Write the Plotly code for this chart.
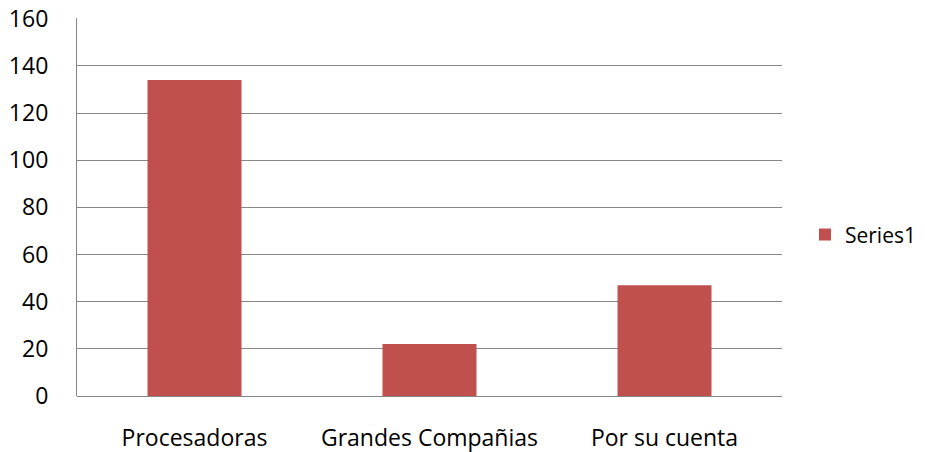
import plotly.graph_objects as go

categories = ['Procesadoras', 'Grandes Compañias', 'Por su cuenta']
values = [134, 22, 47]
y_ticks = [0, 20, 40, 60, 80, 100, 120, 140, 160]

fig = go.Figure()
fig.add_trace(go.Bar(
    name='Series1',
    x=categories, y=values,
    marker=dict(color='#C0504D', line=dict(width=0)),
    width=0.4,
))

# page body keeps an 8px margin at top/left
fig.update_layout(
    width=925, height=452,
    margin=dict(l=69, r=151, t=10, b=64, autoexpand=False),
    paper_bgcolor='white', plot_bgcolor='white',
    font=dict(family='Open Sans', size=23, color='#000000'),
    showlegend=True,
    legend=dict(x=1.0326, y=0.426, xanchor='left', yanchor='middle',
                font=dict(size=21), itemwidth=30),
    bargap=0.6,
)
fig.update_xaxes(showgrid=False, showline=False, ticks='', ticklabelstandoff=26,
                 automargin=False)
fig.update_yaxes(
    range=[0, 160.3], tickvals=y_ticks, showgrid=True, gridcolor='#868686',
    gridwidth=1.2, showline=True, linecolor='#868686', linewidth=1.2,
    ticks='', zeroline=True, zerolinecolor='#868686', zerolinewidth=1.2,
    ticklabelstandoff=23, automargin=False, ticklabeloverflow='allow',
)

fig.write_html('out.html')
